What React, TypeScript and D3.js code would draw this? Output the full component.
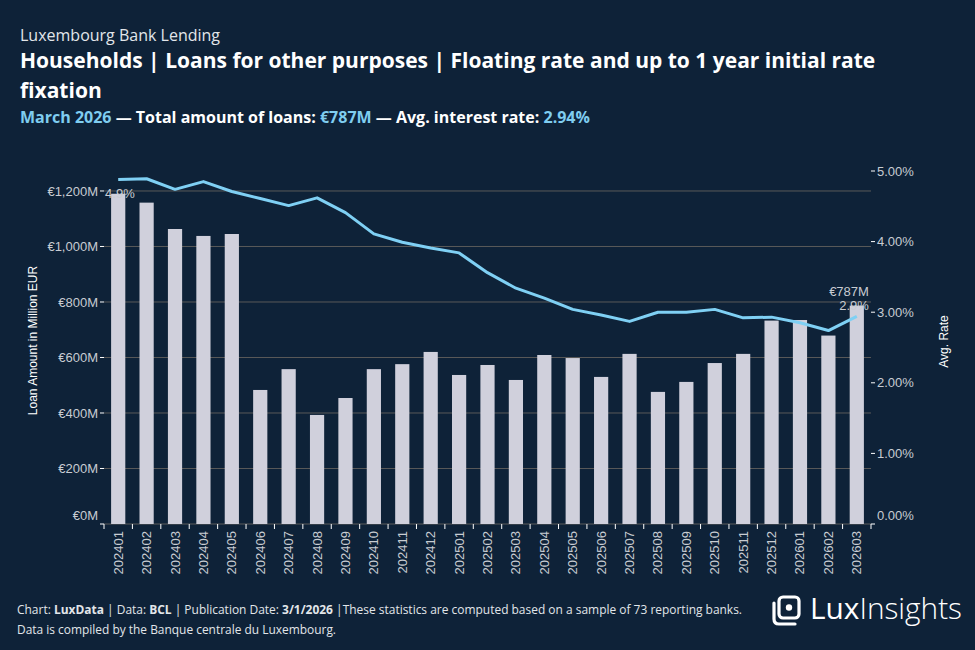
import React from 'react';
import * as d3 from 'd3';

// Monthly series, Jan 2024 – Mar 2026
const months = [
  '202401', '202402', '202403', '202404', '202405', '202406', '202407', '202408', '202409',
  '202410', '202411', '202412', '202501', '202502', '202503', '202504', '202505', '202506',
  '202507', '202508', '202509', '202510', '202511', '202512', '202601', '202602', '202603',
];

// Loan amounts, million EUR
const loanAmounts = [
  1190, 1158, 1063, 1038, 1045, 483, 558, 393, 454,
  558, 576, 620, 537, 573, 519, 609, 598, 530,
  613, 476, 512, 580, 613, 733, 735, 679, 787,
];

// Average interest rate, %
const avgRates = [
  4.88, 4.89, 4.74, 4.85, 4.71, 4.61, 4.51, 4.62, 4.41,
  4.11, 3.99, 3.91, 3.84, 3.56, 3.34, 3.2, 3.04, 2.96,
  2.87, 3.0, 3.0, 3.04, 2.92, 2.93, 2.85, 2.74, 2.94,
];

const amountTicks = [0, 200, 400, 600, 800, 1000, 1200];
const rateTicks = [0, 1, 2, 3, 4, 5];

const W = 975;
const H = 650;
const BG = '#0e2238';
const BAR = '#d0d0dc';
const LINE = '#7fd0f4';
const ACCENT = '#7fcdf0';
const AXIS_TEXT = '#c8ccd2';
const GRID = '#5a5a5a';

const plot = { left: 104, right: 871, top: 171, bottom: 524 };

export default function App() {
  const x = d3
    .scaleBand<string>()
    .domain(months)
    .range([plot.left, plot.right])
    .paddingInner(0.5)
    .paddingOuter(0.25);

  const yAmount = d3.scaleLinear().domain([0, 1272]).range([plot.bottom, plot.top]);
  const yRate = d3.scaleLinear().domain([0, 5]).range([plot.bottom, plot.top]);

  const step = x.step();
  const bw = x.bandwidth();
  const cx = (m: string) => (x(m) ?? 0) + bw / 2;

  const line = d3
    .line<number>()
    .x((_, i) => cx(months[i]))
    .y((d) => yRate(d));

  const last = months.length - 1;
  const boundaries = d3.range(months.length + 1).map((i) => plot.left + i * step);

  const axisFont = "'Liberation Sans', Arial, sans-serif";
  const titleFont = "'Open Sans', sans-serif";

  return (
    <svg
      width={W}
      height={H}
      style={{ position: 'absolute', left: 0, top: 0, background: BG }}
      fontFamily={titleFont}
    >
      <rect width={W} height={H} fill={BG} />

      {/* Header */}
      <text x={20} y={41} fontSize={16} fill="#e2e6ea">
        Luxembourg Bank Lending
      </text>
      <text x={20} y={68} fontSize={21} fontWeight={700} fill="#ffffff">
        Households | Loans for other purposes | Floating rate and up to 1 year initial rate
      </text>
      <text x={20} y={98} fontSize={21} fontWeight={700} fill="#ffffff">
        fixation
      </text>
      <text x={20} y={123} fontSize={16} fontWeight={700} fill="#ffffff">
        <tspan fill={ACCENT}>March 2026</tspan>
        <tspan> — Total amount of loans: </tspan>
        <tspan fill={ACCENT}>€787M</tspan>
        <tspan> — Avg. interest rate: </tspan>
        <tspan fill={ACCENT}>2.94%</tspan>
      </text>

      {/* Gridlines */}
      {amountTicks.map((t) => (
        <line
          key={`g${t}`}
          x1={plot.left}
          x2={plot.right}
          y1={yAmount(t)}
          y2={yAmount(t)}
          stroke={GRID}
          strokeWidth={1}
        />
      ))}

      {/* Bars */}
      {months.map((m, i) => (
        <rect
          key={m}
          x={x(m)}
          y={yAmount(loanAmounts[i])}
          width={bw}
          height={plot.bottom - yAmount(loanAmounts[i])}
          fill={BAR}
        />
      ))}

      {/* Rate line */}
      <path d={line(avgRates) ?? ''} fill="none" stroke={LINE} strokeWidth={3} strokeLinejoin="round" />

      {/* Value labels */}
      <text x={x(months[0])! - 6} y={yAmount(loanAmounts[0]) + 4} fontFamily={axisFont} fontSize={13} fill={AXIS_TEXT}>
        {`${avgRates[0].toFixed(1)}%`}
      </text>
      <text
        x={(x(months[last]) ?? 0) + bw + 5}
        y={yAmount(loanAmounts[last]) - 10}
        fontFamily={axisFont}
        fontSize={13}
        fill={AXIS_TEXT}
        textAnchor="end"
      >
        {`€${loanAmounts[last]}M`}
      </text>
      <text
        x={(x(months[last]) ?? 0) + bw + 5}
        y={yRate(avgRates[last]) - 6}
        fontFamily={axisFont}
        fontSize={13}
        fill={AXIS_TEXT}
        textAnchor="end"
      >
        {`${avgRates[last].toFixed(1)}%`}
      </text>

      {/* Left axis */}
      {amountTicks.map((t) => (
        <g key={`l${t}`}>
          <line x1={plot.left - 4} x2={plot.left} y1={yAmount(t)} y2={yAmount(t)} stroke="#ffffff" />
          <text
            x={plot.left - 6}
            y={t === 0 ? yAmount(t) - 4 : yAmount(t)}
            dy={t === 0 ? 0 : '0.35em'}
            textAnchor="end"
            fontFamily={axisFont}
            fontSize={13}
            fill={AXIS_TEXT}
          >
            {`€${d3.format(',')(t)}M`}
          </text>
        </g>
      ))}
      <text
        transform={`translate(37,${(plot.top + plot.bottom) / 2 - 7}) rotate(-90)`}
        textAnchor="middle"
        fontFamily={axisFont}
        fontSize={12}
        fill="#ffffff"
      >
        Loan Amount in Million EUR
      </text>

      {/* Right axis */}
      {rateTicks.map((t) => (
        <g key={`r${t}`}>
          <line x1={plot.right} x2={plot.right + 4} y1={yRate(t)} y2={yRate(t)} stroke="#ffffff" />
          <text
            x={plot.right + 6}
            y={t === 0 ? yRate(t) - 4 : yRate(t)}
            dy={t === 0 ? 0 : '0.35em'}
            fontFamily={axisFont}
            fontSize={13}
            fill={AXIS_TEXT}
          >
            {`${t.toFixed(2)}%`}
          </text>
        </g>
      ))}
      <text
        transform={`translate(948,${(plot.top + plot.bottom) / 2 - 6}) rotate(-90)`}
        textAnchor="middle"
        fontFamily={axisFont}
        fontSize={12}
        fill="#ffffff"
      >
        Avg. Rate
      </text>

      {/* Bottom axis */}
      {boundaries.map((bx, i) => (
        <line key={`t${i}`} x1={bx} x2={bx} y1={plot.bottom} y2={plot.bottom + 5} stroke="#ffffff" />
      ))}
      {months.map((m) => (
        <text
          key={`x${m}`}
          transform={`translate(${cx(m) + 4.5},${plot.bottom + 7}) rotate(-90)`}
          textAnchor="end"
          fontFamily={axisFont}
          fontSize={13}
          fill={AXIS_TEXT}
        >
          {m}
        </text>
      ))}

      {/* Footer */}
      <text x={17} y={614} fontSize={12} fill="#e2e6ea" textLength={725} lengthAdjust="spacingAndGlyphs">
        <tspan>Chart: </tspan>
        <tspan fontWeight={700}>LuxData</tspan>
        <tspan> | Data: </tspan>
        <tspan fontWeight={700}>BCL</tspan>
        <tspan> | Publication Date: </tspan>
        <tspan fontWeight={700}>3/1/2026</tspan>
        <tspan> |These statistics are computed based on a sample of 73 reporting banks.</tspan>
      </text>
      <text x={17} y={634} fontSize={12} fill="#e2e6ea" textLength={319} lengthAdjust="spacingAndGlyphs">
        Data is compiled by the Banque centrale du Luxembourg.
      </text>

      {/* Logo */}
      <g stroke="#ffffff" fill="none" strokeWidth={3.2} strokeLinecap="round">
        <path d="M774 603 L774 619 Q774 624 779 624 L795 624" />
        <rect x={779} y={597} width={20} height={21} rx={4} />
      </g>
      <circle cx={789} cy={607.5} r={3.2} fill="#ffffff" />
      <text x={810} y={619} fontSize={29} fill="#ffffff" textLength={152} lengthAdjust="spacingAndGlyphs">
        <tspan fontWeight={500}>Lux</tspan>
        <tspan fontWeight={300}>Insights</tspan>
      </text>
    </svg>
  );
}
